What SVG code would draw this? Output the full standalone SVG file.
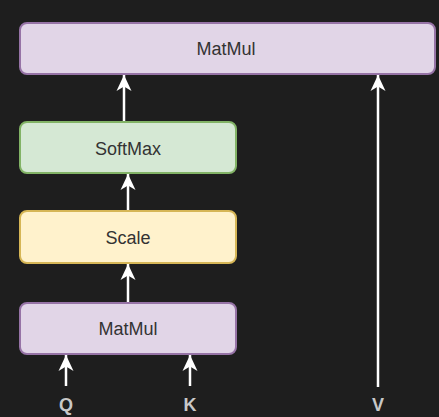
<svg xmlns="http://www.w3.org/2000/svg" width="439" height="417" viewBox="0 0 439 417">
<style>
.bg{fill:#1e1e1e}
.purple{fill:#e1d5e7;stroke:#9673a6;stroke-width:2}
.green{fill:#d5e8d4;stroke:#82b366;stroke-width:2}
.yellow{fill:#fff2cc;stroke:#d6b656;stroke-width:2}
.lbl{font-family:"Liberation Sans",Arial,sans-serif;font-size:18px;fill:#333333;text-anchor:middle;dominant-baseline:central}
.io{font-family:"Liberation Sans",Arial,sans-serif;font-size:18px;font-weight:bold;fill:#c8c8c8;text-anchor:middle;dominant-baseline:central}
.edge{stroke:#ffffff;stroke-width:2.5;fill:none;marker-end:url(#arr)}
</style>
<defs>
<marker id="arr" viewBox="0 0 16 16" refX="16" refY="8" markerWidth="16" markerHeight="16" markerUnits="userSpaceOnUse" orient="auto">
<path d="M0,0.5 L16,8 L0,15.5 L4.5,8 Z" fill="#ffffff"/>
</marker>
</defs>
<rect class="bg" x="0" y="0" width="439" height="417"/>
<g id="connectors">
<line class="edge" x1="124" y1="121" x2="124" y2="75"/>
<line class="edge" x1="128" y1="210" x2="128" y2="174"/>
<line class="edge" x1="128" y1="302" x2="128" y2="264"/>
<line class="edge" x1="66" y1="386" x2="66" y2="355"/>
<line class="edge" x1="190" y1="386" x2="190" y2="355"/>
<line class="edge" x1="378" y1="387" x2="378" y2="75"/>
</g>
<g id="matmul-top">
<rect class="purple" x="20" y="23" width="415" height="51" rx="7"/>
<text class="lbl" x="226" y="49">MatMul</text>
</g>
<g id="softmax">
<rect class="green" x="20" y="122" width="216" height="51" rx="7"/>
<text class="lbl" x="128" y="149">SoftMax</text>
</g>
<g id="scale">
<rect class="yellow" x="20" y="211" width="216" height="52" rx="7"/>
<text class="lbl" x="128" y="238">Scale</text>
</g>
<g id="matmul-bottom">
<rect class="purple" x="20" y="303" width="216" height="51" rx="7"/>
<text class="lbl" x="128" y="329">MatMul</text>
</g>
<g id="q"><text class="io" x="66" y="405">Q</text></g>
<g id="k"><text class="io" x="190" y="405">K</text></g>
<g id="v"><text class="io" x="378" y="405">V</text></g>
</svg>
